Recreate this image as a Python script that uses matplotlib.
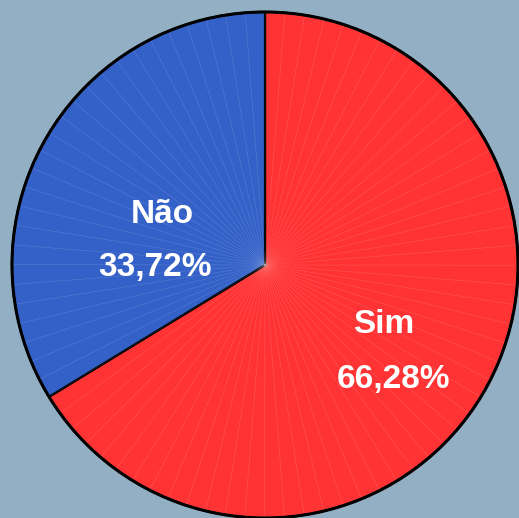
import numpy as np
import matplotlib

matplotlib.use('Agg')

import matplotlib.pyplot as plt

labels = ['Sim', 'Não']
values = [66.28, 33.72]
pct_text = ['66,28%', '33,72%']
colors = ['#FF3333', '#3461C8']
bg = '#93AFC4'

fig = plt.figure(figsize=(5.19, 5.18), dpi=100, facecolor=bg)
ax = fig.add_axes([0, 0, 1, 1])
ax.set_facecolor(bg)

R = 1.0
ax.pie(values, colors=colors, startangle=90, counterclock=False, radius=R,
       wedgeprops=dict(edgecolor='black', linewidth=1.6))

# faint radial seams like the original rendering
n = 80
sub = []
for v in values:
    k = max(1, int(round(n * v / 100)))
    sub += [v / k] * k
ax.pie(sub, startangle=90, counterclock=False, radius=R * 0.995,
       wedgeprops=dict(fill=False, edgecolor='white', linewidth=0.4, alpha=0.09))
ax.add_patch(plt.Circle((0, 0), R, fill=False, edgecolor='black', linewidth=2.2))

txt = dict(color='white', fontsize=24, fontweight='bold', ha='center', va='center',
           family='Liberation Sans')
ax.text(-0.407, 0.200, labels[1], **txt)
ax.text(-0.435, -0.010, pct_text[1], **txt)
ax.text(0.470, -0.235, labels[0], **txt)
ax.text(0.506, -0.452, pct_text[0], **txt)

ax.set_xlim(-265 / 253, 254 / 253)
ax.set_ylim(-253 / 253, 265 / 253)
ax.set_aspect('auto')
ax.axis('off')

fig.savefig('out.png', dpi=100, facecolor=bg)
plt.close(fig)
